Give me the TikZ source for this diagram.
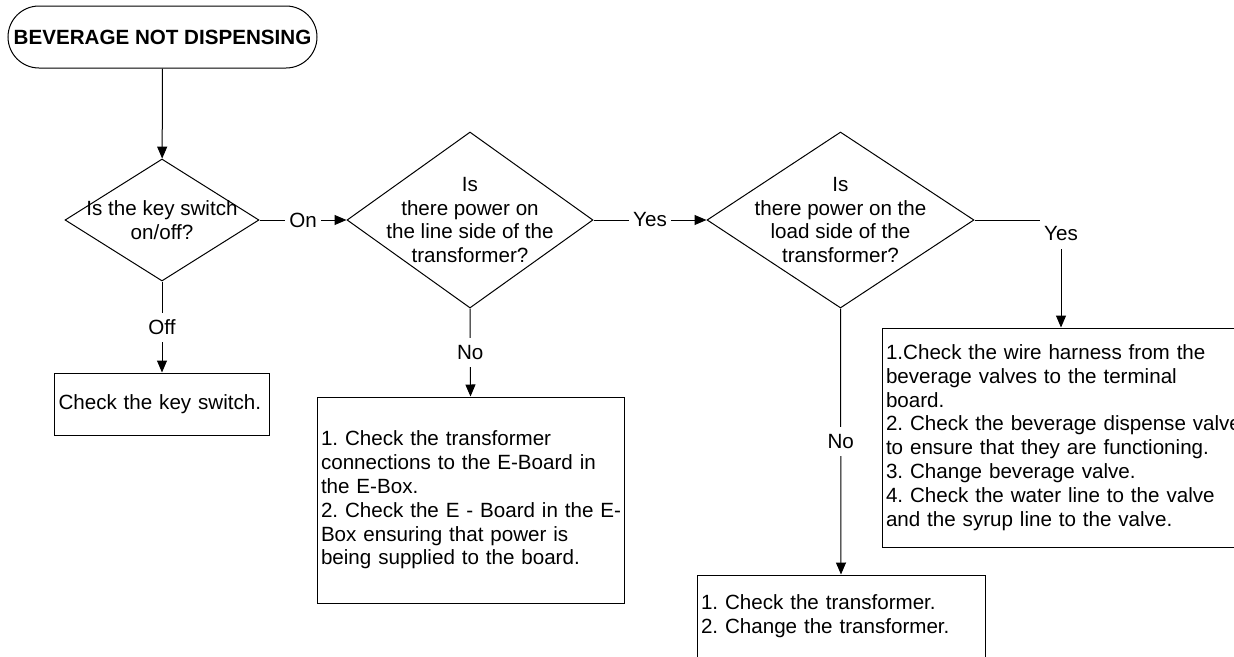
\documentclass[tikz,border=0pt]{standalone}
\usepackage{fontspec}
\setmainfont{Liberation Sans}
\usetikzlibrary{shapes.geometric,arrows.meta}

\begin{document}
\frenchspacing
\begin{tikzpicture}[x=1pt,y=-1pt,
			font=\fontsize{20.6}{23.8}\selectfont,
			line width=1pt,
			>={Triangle[length=12pt,width=10pt]},
			terminal/.style={draw, rectangle, rounded corners=31pt, minimum width=309pt, minimum height=62pt, inner sep=0pt},
			decision/.style={draw, diamond, inner sep=0pt},
			qtext/.style={align=center, inner sep=0pt},
			action/.style={draw, rectangle, align=left, inner xsep=4pt, inner ysep=0pt},
			lbl/.style={fill=white, inner xsep=4pt, inner ysep=0pt, minimum height=29pt}]
			\useasboundingbox (0,0) rectangle (1234,656);
			% start
			\node[terminal] (start) at (162.5,37) {\bfseries BEVERAGE NOT DISPENSING};
			% questions
			\node[decision, minimum width=194pt, minimum height=122pt] (keysw) at (162,220) {};
			\node[qtext] (keyswtext) at (keysw) {Is the key switch\\on/off?};
			\node[decision, minimum width=246pt, minimum height=176pt] (linepw) at (470,220) {};
			\node[qtext] (linepwtext) at (linepw) {Is\\there power on\\the line side of the\\transformer?};
			\node[decision, minimum width=267pt, minimum height=176pt] (loadpw) at (840.5,220) {};
			\node[qtext] (loadpwtext) at (loadpw) {Is\\there power on the\\load side of the\\transformer?};
			% actions
			\node[action, text width=207pt, minimum height=62pt] (keybox) at (162,404) {Check the key switch.};
			\node[action, text width=299pt, minimum height=206pt] (eboard) at (470.5,500) {1. Check the transformer\\connections to the E-Board in\\the E-Box.\\\mbox{2. Check the E - Board in the E-}\\Box ensuring that power is\\being supplied to the board.};
			\node[action, text width=350pt, minimum height=219pt] (valves) at (1061,437.5) {1.Check the wire harness from the\\beverage valves to the terminal\\board.\\\mbox{2. Check the beverage dispense valve}\\to ensure that they are functioning.\\3. Change beverage valve.\\4. Check the water line to the valve\\and the syrup line to the valve.};
			\node[action, text width=280pt, minimum height=83pt] (trafo) at (841,616.5) {1. Check the transformer.\\2. Change the transformer.};
			% connectors
			\draw[->] (start) -- (keysw);
			\draw[->] (keysw) -- node[lbl] (on) {On} (linepw);
			\draw[->] (linepw) -- node[lbl] (yesline) {Yes} (loadpw);
			\draw[->] (loadpw.east) -| node[lbl, pos=0.5, anchor=north, yshift=1pt] (yesload) {Yes} (valves.north);
			\draw[->] (keysw.south) -- node[lbl] (off) {Off} (keybox.north);
			\draw[->] (linepw.south) -- node[lbl] (noline) {No} (eboard.north);
			\draw[->] (loadpw.south) -- node[lbl] (noload) {No} (trafo.north);
			\end{tikzpicture}
\end{document}
